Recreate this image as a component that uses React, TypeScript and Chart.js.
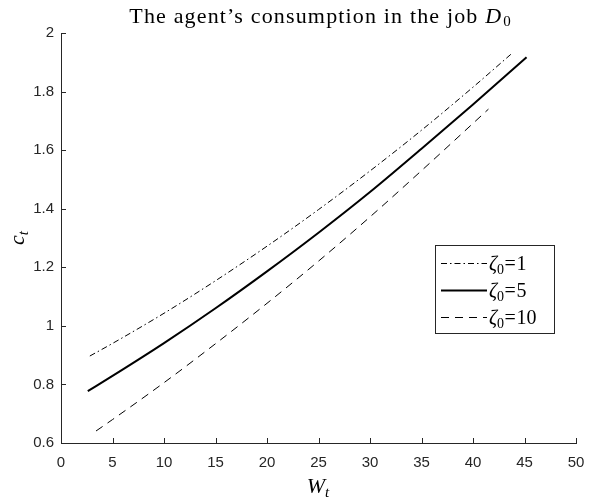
import React, { useEffect, useRef } from "react";
import { Chart, registerables } from "chart.js";

Chart.register(...registerables);

// ---- data ----
const xTickValues = [0, 5, 10, 15, 20, 25, 30, 35, 40, 45, 50];
const yTickValues = [0.6, 0.8, 1, 1.2, 1.4, 1.6, 1.8, 2];

const zetaValues = [1, 5, 10];

const wZeta1 = [2.8, 5, 10, 15, 20, 25, 30, 35, 40, 43.8];
const cZeta1 = [0.897, 0.940, 1.043, 1.154, 1.272, 1.397, 1.529, 1.668, 1.815, 1.931];

const wZeta5 = [2.6, 5, 10, 15, 20, 25, 30, 35, 40, 45.2];
const cZeta5 = [0.777, 0.829, 0.941, 1.060, 1.186, 1.318, 1.457, 1.605, 1.756, 1.917];

const wZeta10 = [3.4, 5, 10, 15, 20, 25, 30, 35, 41.5];
const cZeta10 = [0.641, 0.680, 0.806, 0.939, 1.077, 1.221, 1.372, 1.530, 1.740];

const titleText = "The agent\u2019s consumption in the job ";
const titleSymbol = "D";
const titleSub = "0";
const xLabelMain = "W";
const xLabelSub = "t";
const yLabelMain = "c";
const yLabelSub = "t";
const zetaSymbol = "\u03B6";

const AXIS = "#262626";
const SERIF = '"Liberation Serif", "DejaVu Serif", serif';
const SANS = '"Liberation Sans", Arial, sans-serif';

const lineStyles = [
  { width: 1, dash: [6, 3, 1.5, 3] },
  { width: 2, dash: [] as number[] },
  { width: 1, dash: [8, 6] },
];

function pts(xs: number[], ys: number[]) {
  return xs.map((x, i) => ({ x, y: ys[i] }));
}

const overlayPlugin = {
  id: "matlabOverlay",
  afterDraw(chart: any) {
    const ctx: any = chart.ctx;
    const xs = chart.scales.x;
    const ys = chart.scales.y;
    const { left, bottom } = chart.chartArea;
    ctx.save();
    // inward ticks
    ctx.strokeStyle = AXIS;
    ctx.lineWidth = 1;
    ctx.beginPath();
    xTickValues.forEach((v) => {
      const px = Math.round(xs.getPixelForValue(v)) + 0.5;
      ctx.moveTo(px, bottom);
      ctx.lineTo(px, bottom - 5);
    });
    yTickValues.forEach((v) => {
      const py = Math.round(ys.getPixelForValue(v)) + 0.5;
      ctx.moveTo(left, py);
      ctx.lineTo(left + 5, py);
    });
    ctx.stroke();

    // title
    ctx.fillStyle = "#000";
    ctx.textBaseline = "alphabetic";
    ctx.textAlign = "left";
    const tf = `22px ${SERIF}`;
    const tfi = `italic 22px ${SERIF}`;
    const tfs = `15px ${SERIF}`;
    ctx.letterSpacing = "0px";
    ctx.font = tf;
    const raw = ctx.measureText(titleText).width;
    const spacing = Math.max(0, (356 - raw) / titleText.length);
    const w1 = raw + spacing * titleText.length;
    ctx.font = tfi;
    const w2 = ctx.measureText(titleSymbol).width;
    ctx.font = tfs;
    const w3 = ctx.measureText(titleSub).width;
    const total = w1 + w2 + w3 + 2;
    let tx = 320 - total / 2;
    const tb = 23;
    ctx.font = tf;
    ctx.letterSpacing = `${spacing.toFixed(2)}px`;
    ctx.fillText(titleText, tx, tb);
    ctx.letterSpacing = "0px";
    tx += w1;
    ctx.font = tfi;
    ctx.fillText(titleSymbol, tx, tb);
    tx += w2 + 2;
    ctx.font = tfs;
    ctx.fillText(titleSub, tx, tb + 3);

    // x label
    const lf = `italic 22px ${SERIF}`;
    const lfs = `italic 15px ${SERIF}`;
    ctx.font = lf;
    const xw1 = ctx.measureText(xLabelMain).width;
    ctx.font = lfs;
    const xw2 = ctx.measureText(xLabelSub).width;
    const xx = 318 - (xw1 + xw2) / 2;
    ctx.font = lf;
    ctx.fillText(xLabelMain, xx, 493);
    ctx.font = lfs;
    ctx.fillText(xLabelSub, xx + xw1, 497);

    // y label (rotated)
    ctx.save();
    ctx.translate(24, 238);
    ctx.rotate(-Math.PI / 2);
    ctx.font = lf;
    const yw1 = ctx.measureText(yLabelMain).width;
    ctx.font = lfs;
    const yw2 = ctx.measureText(yLabelSub).width;
    const yx = -(yw1 + yw2) / 2;
    ctx.font = lf;
    ctx.fillText(yLabelMain, yx, 0);
    ctx.font = lfs;
    ctx.fillText(yLabelSub, yx + yw1, 4);
    ctx.restore();

    // legend
    const bx = 435, by = 245, bw = 119, bh = 88;
    ctx.fillStyle = "#fff";
    ctx.fillRect(bx, by, bw, bh);
    ctx.strokeStyle = AXIS;
    ctx.lineWidth = 1;
    ctx.strokeRect(bx + 0.5, by + 0.5, bw, bh);
    const rows = [263, 290, 317];
    zetaValues.forEach((z, i) => {
      const ry = rows[i];
      const st = lineStyles[i];
      ctx.save();
      ctx.strokeStyle = "#000";
      ctx.lineWidth = st.width;
      ctx.setLineDash(st.dash);
      ctx.beginPath();
      ctx.moveTo(441, ry + 0.5);
      ctx.lineTo(487, ry + 0.5);
      ctx.stroke();
      ctx.restore();
      ctx.fillStyle = "#000";
      let lx = 489;
      const base = ry + 7;
      ctx.font = `italic 20px ${SERIF}`;
      ctx.fillText(zetaSymbol, lx, base);
      lx += ctx.measureText(zetaSymbol).width;
      ctx.font = `14px ${SERIF}`;
      ctx.fillText("0", lx, base + 4);
      lx += ctx.measureText("0").width + 0.5;
      ctx.font = `20px ${SERIF}`;
      ctx.fillText("=", lx, base);
      lx += ctx.measureText("=").width + 0.5;
      ctx.fillText(String(z), lx, base);
    });
    ctx.restore();
  },
};

export default function App() {
  const ref = useRef<HTMLCanvasElement | null>(null);
  useEffect(() => {
    document.body.style.margin = "0";
    const canvas = ref.current;
    if (!canvas) return;
    const series = [pts(wZeta1, cZeta1), pts(wZeta5, cZeta5), pts(wZeta10, cZeta10)];
    const chart = new Chart(canvas, {
      type: "line",
      data: {
        datasets: series.map((d, i) => ({
          label: `${zetaSymbol}0=${zetaValues[i]}`,
          data: d,
          borderColor: "#000",
          backgroundColor: "#000",
          borderWidth: lineStyles[i].width,
          borderDash: lineStyles[i].dash,
          pointRadius: 0,
          fill: false,
          cubicInterpolationMode: "monotone" as const,
        })),
      },
      options: {
        responsive: false,
        animation: false,
        devicePixelRatio: 1,
        layout: { padding: { top: 33, right: 15, left: 0, bottom: 0 } },
        plugins: {
          legend: { display: false },
          title: { display: false },
          tooltip: { enabled: false },
        },
        scales: {
          x: {
            type: "linear",
            min: 0,
            max: 50,
            afterBuildTicks: (s: any) => {
              s.ticks = xTickValues.map((v) => ({ value: v }));
            },
            afterFit: (s: any) => {
              s.height = 59;
              s.paddingLeft = 0;
              s.paddingRight = 0;
            },
            grid: { display: true, drawOnChartArea: false, drawTicks: false },
            border: { display: true, color: AXIS, width: 1 },
            ticks: {
              padding: 11,
              color: AXIS,
              font: { family: SANS, size: 15 },
              maxRotation: 0,
              autoSkip: false,
            },
          },
          y: {
            type: "linear",
            min: 0.6,
            max: 2,
            afterBuildTicks: (s: any) => {
              s.ticks = yTickValues.map((v) => ({ value: v }));
            },
            afterFit: (s: any) => {
              s.width = 61;
              s.paddingTop = 0;
              s.paddingBottom = 0;
            },
            grid: { display: true, drawOnChartArea: false, drawTicks: false },
            border: { display: true, color: AXIS, width: 1 },
            ticks: {
              padding: 7,
              color: AXIS,
              font: { family: SANS, size: 15 },
              autoSkip: false,
              callback: (v: any) => String(Math.round(Number(v) * 10) / 10),
            },
          },
        },
      },
      plugins: [overlayPlugin],
    });
    return () => chart.destroy();
  }, []);
  return (
    <div style={{ width: 591, height: 502, background: "#fff" }}>
      <canvas ref={ref} width={591} height={502} style={{ display: "block" }} />
    </div>
  );
}
